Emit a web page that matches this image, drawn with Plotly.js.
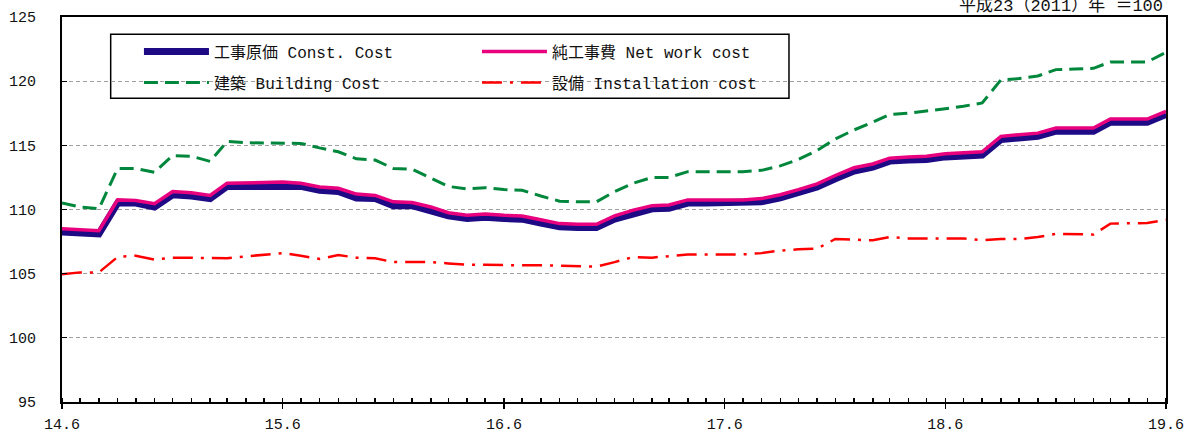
<!DOCTYPE html>
<html>
<head>
<meta charset="utf-8">
<script src="https://cdn.plot.ly/plotly-3.0.1.min.js"></script>
<style>
html,body{margin:0;padding:0;background:#fff;}
#chart{width:1189px;height:433px;}
</style>
</head>
<body>
<div id="chart"></div>
<script>
const months = [
"2014-06","2014-07","2014-08","2014-09","2014-10","2014-11","2014-12","2015-01","2015-02","2015-03","2015-04","2015-05",
"2015-06","2015-07","2015-08","2015-09","2015-10","2015-11","2015-12","2016-01","2016-02","2016-03","2016-04","2016-05",
"2016-06","2016-07","2016-08","2016-09","2016-10","2016-11","2016-12","2017-01","2017-02","2017-03","2017-04","2017-05",
"2017-06","2017-07","2017-08","2017-09","2017-10","2017-11","2017-12","2018-01","2018-02","2018-03","2018-04","2018-05",
"2018-06","2018-07","2018-08","2018-09","2018-10","2018-11","2018-12","2019-01","2019-02","2019-03","2019-04","2019-05",
"2019-06"];

const constCost = [
108.25,108.15,108.1,110.5,110.5,110.2,111.15,111.05,110.85,111.8,111.8,111.85,
111.9,111.8,111.5,111.4,110.9,110.85,110.3,110.3,109.9,109.5,109.3,109.4,
109.3,109.25,108.95,108.65,108.6,108.6,109.25,109.7,110.05,110.1,110.5,110.5,
110.5,110.5,110.6,110.9,111.3,111.75,112.4,113.0,113.3,113.77,113.85,113.9,
114.1,114.15,114.25,115.45,115.55,115.7,116.1,116.1,116.1,116.8,116.8,116.8,
117.4];

const netWorkCost = [
108.5,108.4,108.35,110.75,110.7,110.45,111.4,111.3,111.1,112.05,112.05,112.1,
112.15,112.05,111.75,111.65,111.2,111.1,110.6,110.55,110.2,109.75,109.55,109.65,
109.55,109.5,109.2,108.9,108.85,108.85,109.5,109.95,110.3,110.35,110.75,110.75,
110.75,110.75,110.85,111.15,111.55,112.0,112.65,113.25,113.55,114.0,114.1,114.15,
114.35,114.4,114.5,115.7,115.8,115.95,116.35,116.35,116.35,117.05,117.05,117.05,
117.65];

const buildingCost = [
110.5,110.2,110.05,113.2,113.2,112.9,114.2,114.15,113.75,115.3,115.2,115.2,
115.2,115.15,114.8,114.5,113.95,113.85,113.2,113.15,112.45,111.8,111.6,111.7,
111.55,111.5,111.05,110.65,110.6,110.6,111.4,112.05,112.5,112.5,112.95,112.95,
112.95,112.95,113.05,113.4,113.9,114.6,115.5,116.2,116.8,117.4,117.5,117.65,
117.85,118.05,118.3,120.1,120.2,120.4,120.9,120.95,121.0,121.5,121.5,121.5,
122.25];

const installationCost = [
104.95,105.1,105.1,106.3,106.4,106.1,106.25,106.25,106.2,106.2,106.35,106.5,
106.6,106.4,106.15,106.45,106.25,106.2,105.9,105.9,105.9,105.8,105.7,105.7,
105.65,105.65,105.65,105.6,105.55,105.55,105.9,106.3,106.25,106.35,106.5,106.5,
106.5,106.5,106.6,106.8,106.9,106.95,107.7,107.65,107.6,107.85,107.75,107.75,
107.75,107.75,107.6,107.7,107.7,107.85,108.1,108.05,108.05,108.9,108.95,108.95,
109.2];

const seriesNames = ["工事原価 Const. Cost","純工事費 Net work cost","建築 Building Cost","設備 Installation cost"];
const tickVals = ["2014-06-01","2015-06-01","2016-06-01","2017-06-01","2018-06-01","2019-06-01"];
const tickLabels = ["14.6","15.6","16.6","17.6","18.6","19.6"];
const yTicks = [95,100,105,110,115,120,125];

const FONT = "'Liberation Mono', 'Noto Sans CJK JP', monospace";

const traces = [
  {x: months, y: buildingCost, name: seriesNames[2], type: "scatter", mode: "lines",
   line: {color: "#00873c", width: 3, dash: "14px,7px"}, legend: "legend2", legendrank: 1},
  {x: months, y: installationCost, name: seriesNames[3], type: "scatter", mode: "lines",
   line: {color: "#ff0000", width: 2.5, dash: "20px,8px,3px,8px"}, legend: "legend2", legendrank: 2},
  {x: months, y: constCost, name: seriesNames[0], type: "scatter", mode: "lines",
   line: {color: "#1d0a84", width: 7}, legend: "legend", legendrank: 1},
  {x: months, y: netWorkCost, name: seriesNames[1], type: "scatter", mode: "lines",
   line: {color: "#e8007f", width: 3.5}, legend: "legend", legendrank: 2}
];

const legendBase = {
  orientation: "h", xanchor: "left", yanchor: "top",
  bgcolor: "rgba(0,0,0,0)", borderwidth: 0,
  font: {family: FONT, size: 16, color: "#111"},
  itemwidth: 65, entrywidth: 258, entrywidthmode: "pixels",
  traceorder: "normal", itemclick: false, itemdoubleclick: false
};

const layout = {
  width: 1189, height: 433,
  margin: {l: 62, r: 23, t: 17, b: 31},
  paper_bgcolor: "#fff", plot_bgcolor: "#fff",
  font: {family: FONT, size: 15, color: "#111"},
  showlegend: true,
  legend: Object.assign({}, legendBase, {x: 0.0697, y: 0.954}),
  legend2: Object.assign({}, legendBase, {x: 0.0697, y: 0.874}),
  xaxis: {
    type: "date",
    range: ["2014-06-01", "2019-06-01"],
    tickmode: "array", tickvals: tickVals, ticktext: tickLabels,
    ticks: "outside", ticklen: 5, tickwidth: 1.5, tickcolor: "#000",
    showgrid: false, zeroline: false,
    showline: true, linecolor: "#000", linewidth: 2, mirror: true,
    tickfont: {family: FONT, size: 15, color: "#111"},
    ticklabelstandoff: 2,
    minor: {tickmode: "linear", tick0: "2014-06-01", dtick: "M1", ticks: "inside", ticklen: 4, tickwidth: 1.5, tickcolor: "#000", showgrid: false},
    fixedrange: true
  },
  yaxis: {
    range: [95, 125],
    tickmode: "array", tickvals: yTicks,
    ticks: "inside", ticklen: 5, tickwidth: 1, tickcolor: "#000",
    showgrid: true, gridcolor: "#a0a0a0", gridwidth: 1, griddash: "4px,3px",
    zeroline: false,
    showline: true, linecolor: "#000", linewidth: 2, mirror: true,
    tickfont: {family: FONT, size: 15, color: "#111"},
    ticklabelstandoff: 21,
    fixedrange: true
  },
  shapes: [
    {type: "rect", xref: "paper", yref: "paper", x0: 0.0441, x1: 0.6585, y0: 0.7888, y1: 0.955,
     line: {color: "#000", width: 1.5}, fillcolor: "#fff", layer: "between"}
  ],
  annotations: [
    {xref: "paper", yref: "paper", x: (483 - 62) / 1104, y: (402 - 2) / 385, xanchor: "left", yanchor: "bottom",
     text: "Fig.5", showarrow: false, font: {family: FONT, size: 16, color: "#111"}},
    {xref: "paper", yref: "paper", x: (638 - 62) / 1104, y: (402 - 2) / 385, xanchor: "left", yanchor: "bottom",
     text: "Factory", showarrow: false, font: {family: FONT, size: 16, color: "#111"}},
    {xref: "paper", yref: "paper", x: (1165 - 62) / 1104, y: (402 - 18) / 385, xanchor: "right", yanchor: "bottom",
     text: "平成23（2011）年 ＝100", showarrow: false, font: {family: FONT, size: 17, color: "#111"}}
  ]
};

Plotly.newPlot("chart", traces, layout, {displayModeBar: false, staticPlot: true});
</script>
</body>
</html>
